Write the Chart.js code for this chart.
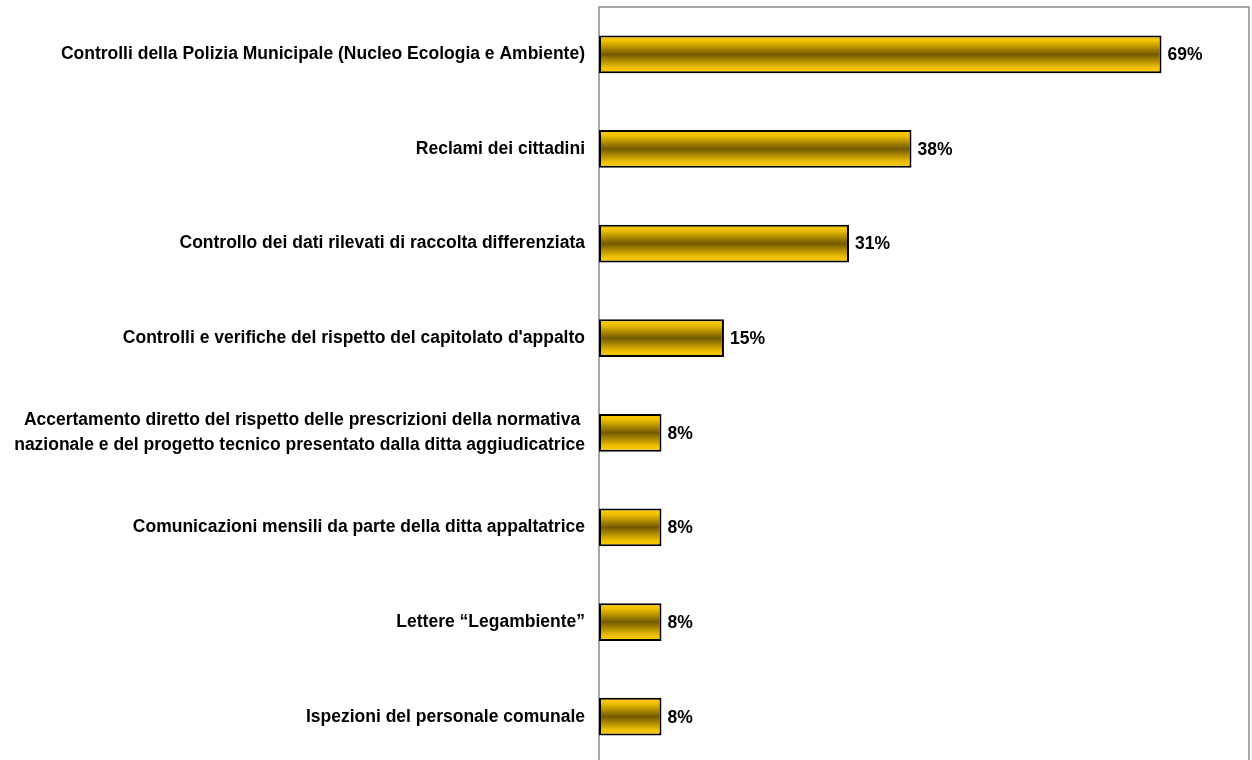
<!DOCTYPE html>
<html>
<head>
<meta charset="utf-8">
<script src="https://cdn.jsdelivr.net/npm/chart.js@4"></script>
<style>
  html, body { margin: 0; padding: 0; background: #fff; overflow: hidden; }
  #wrap { width: 1252px; height: 766px; }
</style>
</head>
<body>
<div id="wrap"><canvas id="myChart"></canvas></div>
<script>
const categories = [
  "Controlli della Polizia Municipale (Nucleo Ecologia e Ambiente)",
  "Reclami dei cittadini",
  "Controllo dei dati rilevati di raccolta differenziata",
  "Controlli e verifiche del rispetto del capitolato d'appalto",
  ["Accertamento diretto del rispetto delle prescrizioni della normativa ", "nazionale e del progetto tecnico presentato dalla ditta aggiudicatrice"],
  "Comunicazioni mensili da parte della ditta appaltatrice",
  "Lettere \u201cLegambiente\u201d",
  "Ispezioni del personale comunale",
];
const values = [69.23, 38.46, 30.77, 15.38, 7.69, 7.69, 7.69, 7.69];
const xMax = 80;

const FONT = '"Liberation Sans", Arial, sans-serif';
const FONT_SIZE = 17.5;

// vertical gold gradient per bar
function barGradient(context) {
  const chart = context.chart;
  const y = chart.scales.y;
  if (!y || context.dataIndex === undefined) return "#b89200";
  const band = (y.bottom - y.top) / categories.length;
  const h = band * 0.4;
  const cy = y.getPixelForValue(context.dataIndex);
  if (!Number.isFinite(cy) || !Number.isFinite(h) || h <= 0) return "#b89200";
  const g = chart.ctx.createLinearGradient(0, cy - h / 2, 0, cy + h / 2);
  g.addColorStop(0, "#ffcc00");
  g.addColorStop(0.15, "#f0c000");
  g.addColorStop(0.5, "#735a00");
  g.addColorStop(0.85, "#f0c000");
  g.addColorStop(1, "#ffcc00");
  return g;
}

// percent labels at bar ends
const valueLabels = {
  id: "valueLabels",
  afterDatasetsDraw(chart) {
    const ctx = chart.ctx;
    const meta = chart.getDatasetMeta(0);
    ctx.save();
    ctx.font = "bold " + FONT_SIZE + "px " + FONT;
    ctx.fillStyle = "#000";
    ctx.textAlign = "left";
    ctx.textBaseline = "middle";
    meta.data.forEach((bar, i) => {
      ctx.fillText(Math.round(values[i]) + "%", bar.x + 6, bar.y + 1);
    });
    ctx.restore();
  },
};

// grey frame round the plot area
const frame = {
  id: "frame",
  beforeDatasetsDraw(chart) {
    const { ctx, chartArea: a } = chart;
    ctx.save();
    ctx.strokeStyle = "#8c8c8c";
    ctx.lineWidth = 1.5;
    ctx.strokeRect(a.left, a.top, a.right - a.left, a.bottom - a.top);
    ctx.restore();
  },
};

const data = {
  labels: categories,
  datasets: [
    {
      data: values,
      backgroundColor: barGradient,
      borderColor: "#000",
      borderWidth: 2,
      borderSkipped: false,
      barPercentage: 0.4,
      categoryPercentage: 1,
    },
  ],
};

const config = {
  type: "bar",
  data,
  plugins: [frame, valueLabels],
  options: {
    indexAxis: "y",
    responsive: true,
    maintainAspectRatio: false,
    animation: false,
    layout: { padding: { top: 7, right: 3, bottom: 2, left: 0 } },
    plugins: {
      legend: { display: false },
      tooltip: { enabled: false },
    },
    scales: {
      x: {
        min: 0,
        max: xMax,
        display: false,
      },
      y: {
        grid: { display: false, drawTicks: false },
        border: { display: false },
        afterFit(scale) {
          scale.width = 599;
          scale.paddingTop = 0;
          scale.paddingBottom = 0;
        },
        ticks: {
          padding: 14,
          color: "#000",
          font: { family: FONT, size: FONT_SIZE, weight: "bold", lineHeight: 1.4 },
        },
      },
    },
  },
};

const myChart = new Chart(document.getElementById("myChart"), config);
</script>
</body>
</html>
